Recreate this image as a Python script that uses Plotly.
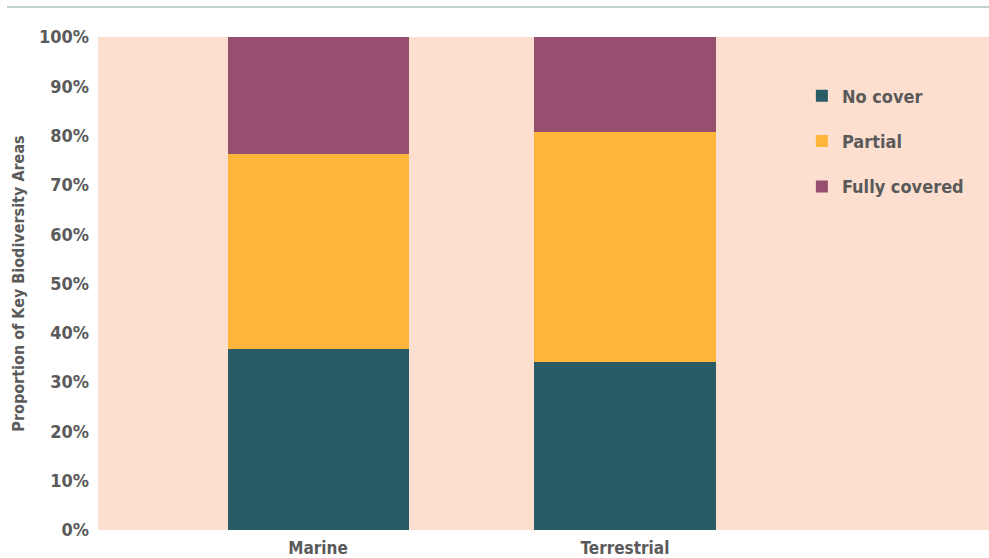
import plotly.graph_objects as go

categories = ["Marine", "Terrestrial"]
no_cover = [36.7, 34.1]
partial = [39.6, 46.7]
fully_covered = [23.7, 19.2]
y_ticks = [0, 10, 20, 30, 40, 50, 60, 70, 80, 90, 100]
y_tick_labels = [f"{v}%" for v in y_ticks]

FONT = "DejaVu Sans Condensed, Liberation Sans Narrow, Arial Narrow, sans-serif"
TEXT = "#5a5a5a"

fig = go.Figure()
series = [
    ("No cover", no_cover, "#2a5c66"),
    ("Partial", partial, "#ffb53a"),
    ("Fully covered", fully_covered, "#964f6e"),
]
for i, (name, vals, color) in enumerate(series):
    fig.add_trace(go.Bar(
        x=categories, y=vals, name=name, legendgroup=f"g{i}",
        marker=dict(color=color, line=dict(width=0)),
    ))

fig.update_layout(
    width=989, height=558,
    barmode="stack", bargap=0.41,
    plot_bgcolor="#fddfd0", paper_bgcolor="white",
    margin=dict(l=98, r=0, t=37, b=28),
    font=dict(family=FONT, color=TEXT, size=18),
    showlegend=True,
    legend=dict(
        x=0.79, y=0.918, xanchor="left", yanchor="top",
        bgcolor="rgba(0,0,0,0)", traceorder="grouped",
        font=dict(family=FONT, size=18, color=TEXT, weight="bold"),
        tracegroupgap=19, itemwidth=30,
    ),
    xaxis=dict(
        range=[-0.717, 2.186], showgrid=False, zeroline=False,
        tickfont=dict(family=FONT, size=17, color=TEXT, weight="bold"),
        ticks="", ticklabelstandoff=6,
    ),
    yaxis=dict(
        range=[0, 100], tickvals=y_ticks, ticktext=y_tick_labels,
        showgrid=False, zeroline=False, ticks="",
        tickfont=dict(family=FONT, size=18, color=TEXT, weight="bold"),
        ticklabelstandoff=8,
        title=dict(text="Proportion of Key Biodiversity Areas",
                   font=dict(family=FONT, size=16, color=TEXT, weight="bold"),
                   standoff=10),
    ),
)

# thin rule under the header
fig.add_shape(type="line", xref="paper", yref="paper",
              x0=(7 - 98) / 891, x1=1.0, y0=(530 - 7) / 493, y1=(530 - 7) / 493,
              line=dict(color="#c3d0d0", width=2))

fig.write_html("out.html")
